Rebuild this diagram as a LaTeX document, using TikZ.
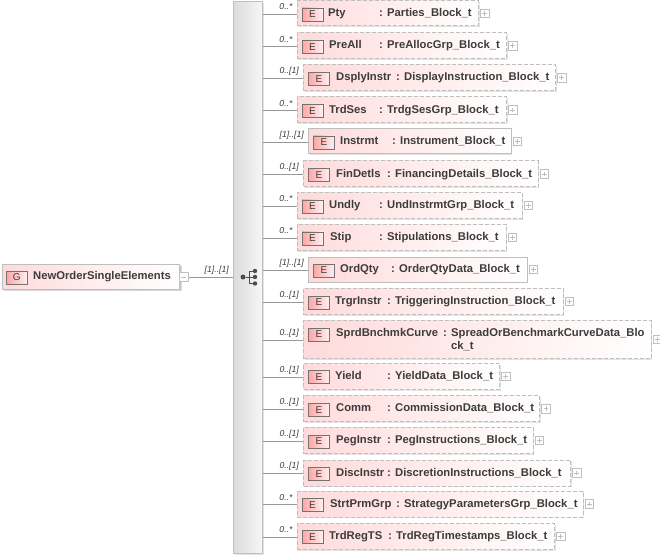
\documentclass[tikz,border=0pt]{standalone}
\usepackage{fontspec}
\setmainfont{Liberation Sans}
\usetikzlibrary{shadows}
\definecolor{edgegray}{RGB}{190,190,190}
\definecolor{pinkleft}{RGB}{255,218,218}
\definecolor{iconleft}{RGB}{255,165,165}
\definecolor{iconright}{RGB}{255,240,240}
\definecolor{textgray}{RGB}{60,60,60}
\tikzset{
  basebox/.style={anchor=west,inner sep=0pt,left color=pinkleft,right color=white,drop shadow={shadow xshift=1.2bp,shadow yshift=-1.2bp,fill=black!22,opacity=.5}},
  reqbox/.style={basebox,draw=edgegray,line width=1bp},
  optbox/.style={basebox,draw=edgegray,line width=1bp,dash pattern=on 4bp off 2bp},
  iconbox/.style={anchor=west,inner sep=0pt,minimum width=21bp,minimum height=13bp,left color=iconleft,right color=iconright,draw=black!55,line width=.7bp,text=textgray,font=\fontsize{10}{12}\selectfont},
  labeltext/.style={anchor=north west,inner sep=0pt,align=left,text=textgray,font=\fontsize{11.3}{12.5}\selectfont\bfseries},
  multtext/.style={anchor=east,inner sep=0pt,text=textgray,font=\fontsize{8.7}{10}\selectfont\itshape},
  pluscell/.style={anchor=west,inner sep=0pt,minimum size=8.5bp,draw=black!25,line width=.6bp,path picture={\draw[black!25,line width=.6bp] ([yshift=-2bp]path picture bounding box.north) -- ([yshift=2bp]path picture bounding box.south) ([xshift=2bp]path picture bounding box.west) -- ([xshift=-2bp]path picture bounding box.east);}},
  minuscell/.style={anchor=west,inner sep=0pt,minimum size=9bp,draw=black!25,line width=.6bp,path picture={\draw[black!25,line width=.6bp] ([xshift=2bp]path picture bounding box.west) -- ([xshift=-2bp]path picture bounding box.east);}},
  wire/.style={draw=black!40,line width=.7bp},
  dot/.style={circle,fill=black!70,inner sep=0pt,minimum size=5bp},
  tree/.style={draw=black!70,line width=.8bp}
}
\begin{document}
\begin{tikzpicture}[x=1bp,y=-1bp]
\useasboundingbox (0,0) rectangle (660,557);
%%
\node (seq) at (233,1) [anchor=north west,inner sep=0pt,minimum width=29bp,minimum height=552bp,left color=black!14,right color=black!3,draw=black!25,line width=.8bp,drop shadow={shadow xshift=1.2bp,shadow yshift=-1.2bp,fill=black!22,opacity=.5}] {};
\node (dot_0) at (243,277) [dot] {};
\node (dot_1) at (255,271) [dot,minimum size=4.4bp] {};
\node (dot_2) at (255,277) [dot,minimum size=4.4bp] {};
\node (dot_3) at (255,283.5) [dot,minimum size=4.4bp] {};
\coordinate (fork) at (249,277);
\draw [tree] (dot_0) -- (fork) (fork |- dot_1) -- (fork |- dot_3) (fork |- dot_1) -- (dot_1) (fork) -- (dot_2) (fork |- dot_3) -- (dot_3);
%%
\node (root) at (1.5,276.5) [reqbox,minimum width=177.5bp,minimum height=25bp,drop shadow={shadow xshift=2bp,shadow yshift=-2bp,fill=black!30,opacity=.5}] {};
\node (root_icon) at (6,277.5) [iconbox] {G};
\node (root_name) at (33,270.7) [labeltext] {\strut NewOrderSingleElements};
\node (root_minus) at (179,277) [minuscell,fill=white] {};
\draw [wire] (root_minus.east) -- (seq.west |- root_minus.east);
\node (root_mult) at (229,270.5) [multtext] {[1]..[1]};
%%
\foreach \y/\l/\r/\nx/\cx/\nm/\tp/\mlt/\st/\hh/\dy [count=\i] in {
  13.5/296.7/478/328/379/Pty/Parties\_Block\_t/0..*/optbox/25/0,
  45.7/296.7/506/329/379/PreAll/PreAllocGrp\_Block\_t/0..*/optbox/26/0,
  77.7/303/555/336/396/DsplyInstr/DisplayInstruction\_Block\_t/0..[1]/optbox/26/0,
  110/296.7/506/329/379/TrdSes/TrdgSesGrp\_Block\_t/0..*/optbox/26/0,
  141.5/308/510.7/340/392/Instrmt/Instrument\_Block\_t/[1]..[1]/reqbox/25/0,
  174/303/537.7/336/387/FinDetls/FinancingDetails\_Block\_t/0..[1]/optbox/26/0,
  205.5/296.7/521.7/329/379/Undly/UndInstrmtGrp\_Block\_t/0..*/optbox/26/0,
  237.5/296.7/505.7/330/379/Stip/Stipulations\_Block\_t/0..*/optbox/26/0,
  269.5/308/526.7/340/391/OrdQty/OrderQtyData\_Block\_t/[1]..[1]/reqbox/25/0,
  301.5/303/562.7/335/387/TrgrInstr/TriggeringInstruction\_Block\_t/0..[1]/optbox/26/0,
  339.5/303/650.7/336/443/SprdBnchmkCurve/{SpreadOrBenchmarkCurveData\_Blo\\\strut ck\_t}/0..[1]/optbox/38/-6,
  376.3/303/499/335/387/Yield/YieldData\_Block\_t/0..[1]/optbox/26/0,
  408.7/303/539.3/336/387/Comm/CommissionData\_Block\_t/0..[1]/optbox/26/0,
  440.5/303/532.7/336/387/PegInstr/PegInstructions\_Block\_t/0..[1]/optbox/26/0,
  473/303/570/336/387/DiscInstr/DiscretionInstructions\_Block\_t/0..[1]/optbox/26/0,
  504/296.7/582.7/330/396/StrtPrmGrp/StrategyParametersGrp\_Block\_t/0..*/optbox/26/0,
  536.3/296.7/554/329/388/TrdRegTS/TrdRegTimestamps\_Block\_t/0..*/optbox/26/0}
{
  \node (node_\i) at (\l,\y) [\st,minimum width=\r bp-\l bp,minimum height=\hh bp] {};
  \node (icon_\i) at (\l+5,\y+\dy+1) [iconbox] {E};
  \node (name_\i) at (\nx,\y+\dy-5.8) [labeltext] {\strut\nm};
  \node (colon_\i) at (\cx,\y+\dy-5.8) [labeltext] {\strut:};
  \node (type_\i) at (\cx+8,\y+\dy-5.8) [labeltext] {\strut\tp};
  \node (plus_\i) at (\r+2,\y) [pluscell] {};
  \draw [wire] ([yshift=-.7bp]seq.east |- node_\i.west) -- ([yshift=-.7bp]node_\i.west);
  \node (mult_\i) at (\l-4,\y-6.5) [multtext] {\mlt};
}
%
\end{tikzpicture}
\end{document}
